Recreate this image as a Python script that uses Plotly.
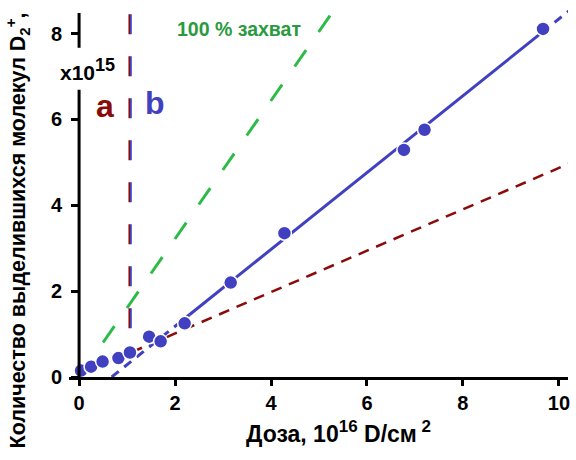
import plotly.graph_objects as go

# ---- data ----
dose = [0.04, 0.25, 0.49, 0.82, 1.06, 1.46, 1.70, 2.20, 3.16, 4.28, 6.77, 7.20, 9.67]
molecules = [0.15, 0.24, 0.36, 0.44, 0.57, 0.94, 0.83, 1.25, 2.20, 3.35, 5.29, 5.76, 8.11]

# fitted / model lines (slope, intercept) and extents
fit_b_slope, fit_b_icpt = 0.895, -0.608
fit_b_dash_lo = [0.68, 2.30]
fit_b_solid = [2.30, 9.65]
fit_b_dash_hi = [9.65, 10.40]
model_a_slope, model_a_icpt = 0.482, 0.05
model_a_x = [1.10, 10.40]
capture_slope = 1.61
capture_x = [0.0, 5.50]
boundary_x = 1.064
boundary_y = [8.45, 1.0]

x_ticks = [0, 2, 4, 6, 8, 10]
y_ticks = [0, 2, 4, 6, 8]
x_range = [-0.21, 10.19]
y_range = [0, 8.55]
y_axis_segments = [[0, 6.69], [7.67, 8.48]]

BLUE = "#4040c0"
RED = "#8b0a0a"
GREEN = "#2dbb48"
GREEN_TXT = "#2a9a40"
FONT = "Liberation Sans"

def line(xs, k, b):
    return xs, [k * x + b for x in xs]

fig = go.Figure()

gx, gy = line(capture_x, capture_slope, 0.0)
fig.add_trace(go.Scatter(x=gx, y=gy, mode="lines",
                         line=dict(color=GREEN, width=3, dash="20px,22px")))
rx, ry = line(model_a_x, model_a_slope, model_a_icpt)
fig.add_trace(go.Scatter(x=rx, y=ry, mode="lines",
                         line=dict(color=RED, width=2.5, dash="11px,8px")))
for seg, dash in [(fit_b_dash_lo, "9px,7px"), (fit_b_solid, "solid"), (fit_b_dash_hi, "9px,7px")]:
    bx, by = line(seg, fit_b_slope, fit_b_icpt)
    fig.add_trace(go.Scatter(x=bx, y=by, mode="lines",
                             line=dict(color=BLUE, width=3, dash=dash)))

# boundary between regions a and b (red/blue double dashed line)
off = 0.016
fig.add_trace(go.Scatter(x=[boundary_x - off] * 2, y=boundary_y, mode="lines",
                         line=dict(color=RED, width=1.8, dash="20px,22px")))
fig.add_trace(go.Scatter(x=[boundary_x + off] * 2, y=boundary_y, mode="lines",
                         line=dict(color=BLUE, width=1.8, dash="20px,22px")))

fig.add_trace(go.Scatter(x=dose, y=molecules, mode="markers",
                         marker=dict(color=BLUE, size=14, line=dict(color="white", width=1.5))))

# broken y axis line
for y0, y1 in y_axis_segments:
    fig.add_shape(type="line", xref="x", yref="y", x0=0, x1=0, y0=y0, y1=y1,
                  line=dict(color="black", width=3))

ypos = (0 - x_range[0]) / (x_range[1] - x_range[0])

fig.update_layout(
    width=576, height=460,
    margin=dict(l=69, r=6, t=10, b=83),
    plot_bgcolor="white", paper_bgcolor="white",
    showlegend=False,
    font=dict(family=FONT, color="black"),
    xaxis=dict(range=x_range, tickvals=x_ticks, showgrid=False, zeroline=False,
               showline=True, linecolor="black", linewidth=3,
               ticks="outside", ticklen=6, tickwidth=2.5, tickcolor="black",
               ticklabelstandoff=0,
               tickfont=dict(size=20, family=FONT, weight="bold")),
    yaxis=dict(range=y_range, tickvals=y_ticks, showgrid=False, zeroline=False,
               showline=False, anchor="free", position=ypos,
               ticks="outside", ticklen=8, tickwidth=2.5, tickcolor="black",
               ticklabelstandoff=5,
               tickfont=dict(size=20, family=FONT, weight="bold")),
)

ann = [
    dict(text="<b>Количество выделившихся молекул D<sub>2</sub><sup>+</sup>,</b>",
         xref="paper", yref="paper", x=-0.1038, y=0.40, textangle=-90,
         xanchor="center", yanchor="middle",
         font=dict(size=21.5), showarrow=False),
    dict(text="<b>Доза, 10<sup><span style='font-size:17px'>16</span></sup> D/см<sup><span style='font-size:17px'> 2</span></sup></b>",
         xref="paper", yref="paper", x=0.540, y=-0.15,
         xanchor="center", yanchor="middle",
         font=dict(size=23), showarrow=False),
    dict(text="<b>100 % захват</b>", xref="x", yref="y", x=3.33, y=8.11,
         xanchor="center", yanchor="middle",
         font=dict(size=19.5, color=GREEN_TXT), showarrow=False),
    dict(text="<b>a</b>", xref="x", yref="y", x=0.53, y=6.32,
         xanchor="center", yanchor="middle",
         font=dict(size=32, color=RED), showarrow=False),
    dict(text="<b>b</b>", xref="x", yref="y", x=1.59, y=6.39,
         xanchor="center", yanchor="middle",
         font=dict(size=32, color=BLUE), showarrow=False),
    dict(text="<b>x10<sup><span style='font-size:18px'>15</span></sup></b>", xref="x", yref="y", x=0.17, y=7.17,
         xanchor="center", yanchor="middle",
         font=dict(size=21), showarrow=False),
]
fig.update_layout(annotations=ann)

fig.write_html("out.html")
